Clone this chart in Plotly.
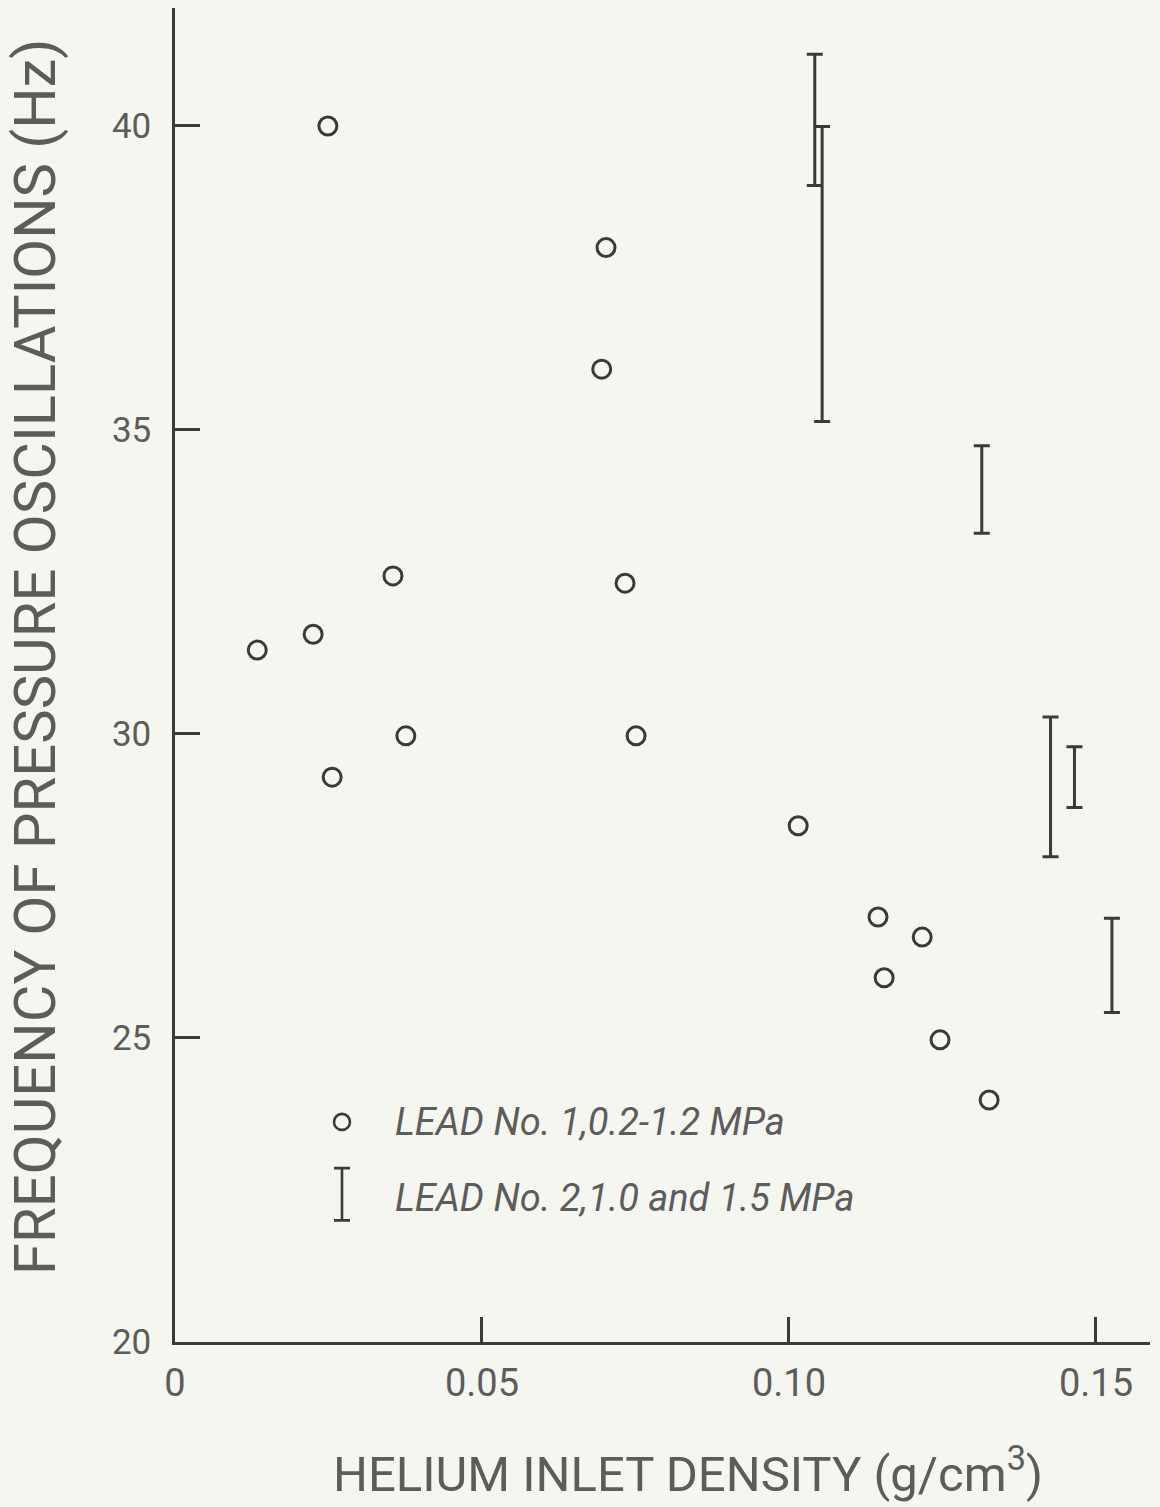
import plotly.graph_objects as go

# Lead No. 1 (0.2-1.2 MPa): helium inlet density (g/cm3) vs. oscillation frequency (Hz)
lead1_density = [0.0249, 0.0702, 0.0695, 0.0355, 0.0733, 0.0225, 0.0134, 0.0376,
                 0.0751, 0.0256, 0.1015, 0.1145, 0.1217, 0.1155, 0.1246, 0.1326]
lead1_freq = [40.0, 38.0, 36.0, 32.6, 32.48, 31.64, 31.38, 29.97,
              29.97, 29.29, 28.49, 26.99, 26.66, 25.99, 24.97, 23.98]

# Lead No. 2 (1.0 and 1.5 MPa): frequency ranges
lead2_density = [0.1042, 0.1054, 0.1314, 0.1426, 0.1465, 0.1526]
lead2_low = [39.02, 35.14, 33.30, 27.98, 28.79, 25.42]
lead2_high = [41.18, 39.99, 34.74, 30.28, 29.79, 26.97]

x_ticks = [0, 0.05, 0.10, 0.15]
x_tick_text = ["0", "0.05", "0.10", "0.15"]
y_ticks = [20, 25, 30, 35, 40]

legend_labels = ["LEAD No. 1,0.2-1.2 MPa", "LEAD No. 2,1.0 and 1.5 MPa"]
legend_x = 0.0272
legend_text_x = 0.0355
legend_circle_y = 23.62
legend_bar_low, legend_bar_high = 22.0, 22.86
legend_text_y = [23.62, 22.37]

x_title = "HELIUM INLET DENSITY (g/cm<sup>3</sup>)"
y_title = "FREQUENCY OF PRESSURE OSCILLATIONS (Hz)"

INK = "#3a3a3a"
TEXT = "#5c5c5c"
BG = "#f6f6f0"
FONT = "Roboto, Liberation Sans, sans-serif"

mid = [(lo + hi) / 2 for lo, hi in zip(lead2_low, lead2_high)]
half = [(hi - lo) / 2 for lo, hi in zip(lead2_low, lead2_high)]

fig = go.Figure()

fig.add_trace(go.Scatter(
    x=lead1_density, y=lead1_freq, mode="markers",
    marker=dict(symbol="circle-open", size=18, color=INK, line=dict(width=3, color=INK)),
    showlegend=False, hoverinfo="skip",
))

fig.add_trace(go.Scatter(
    x=lead2_density, y=mid, mode="markers",
    marker=dict(size=1, color="rgba(0,0,0,0)"),
    error_y=dict(type="data", array=half, symmetric=True, color=INK, thickness=3, width=8),
    showlegend=False, hoverinfo="skip",
))

# legend samples
fig.add_trace(go.Scatter(
    x=[legend_x], y=[legend_circle_y], mode="markers",
    marker=dict(symbol="circle-open", size=16, color=INK, line=dict(width=2.6, color=INK)),
    showlegend=False, hoverinfo="skip",
))
fig.add_trace(go.Scatter(
    x=[legend_x], y=[(legend_bar_low + legend_bar_high) / 2], mode="markers",
    marker=dict(size=1, color="rgba(0,0,0,0)"),
    error_y=dict(type="data", array=[(legend_bar_high - legend_bar_low) / 2],
                 color=INK, thickness=2.6, width=8),
    showlegend=False, hoverinfo="skip",
))
for label, ty in zip(legend_labels, legend_text_y):
    fig.add_annotation(
        x=legend_text_x, y=ty, xref="x", yref="y", text="<i>" + label + "</i>",
        showarrow=False, xanchor="left", yanchor="middle",
        font=dict(family=FONT, size=38, color=TEXT),
    )

# axis titles
fig.add_annotation(
    x=0.526, y=0, xref="paper", yref="paper", yshift=-128, text=x_title,
    showarrow=False, xanchor="center", yanchor="middle",
    font=dict(family=FONT, size=49, color=TEXT),
)
fig.add_annotation(
    x=0, y=0.5135, xref="paper", yref="paper", xshift=-140, text=y_title,
    showarrow=False, xanchor="center", yanchor="middle", textangle=-90,
    font=dict(family=FONT, size=58, color=TEXT),
)

fig.update_layout(
    width=1160, height=1507,
    margin=dict(l=175, r=10, t=8, b=165),
    paper_bgcolor=BG, plot_bgcolor=BG,
    font=dict(family=FONT, color=TEXT),
    showlegend=False,
    xaxis=dict(
        range=[0, 0.1588], showgrid=False, zeroline=False,
        showline=True, linecolor=INK, linewidth=2.5,
        ticks="inside", ticklen=25, tickwidth=2.5, tickcolor=INK,
        tickvals=x_ticks, ticktext=x_tick_text,
        tickfont=dict(family=FONT, size=38, color=TEXT),
        ticklabelstandoff=6,
    ),
    yaxis=dict(
        range=[20, 41.94], showgrid=False, zeroline=False,
        showline=True, linecolor=INK, linewidth=2.5,
        ticks="inside", ticklen=25, tickwidth=2.5, tickcolor=INK,
        tickvals=y_ticks,
        tickfont=dict(family=FONT, size=35, color=TEXT),
        ticklabelstandoff=14,
    ),
)

fig.write_html("out.html")
